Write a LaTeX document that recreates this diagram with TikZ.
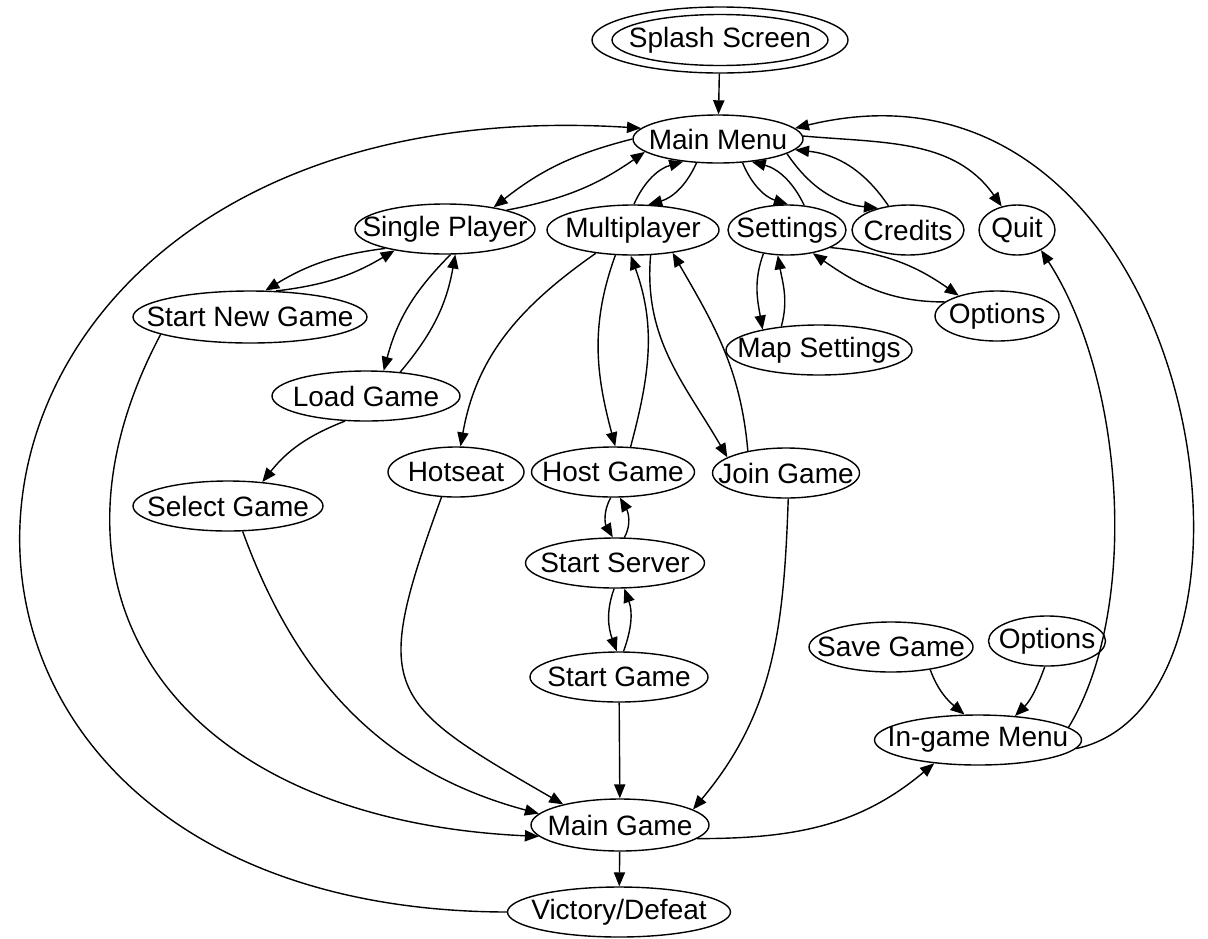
\documentclass[tikz,border=0pt]{standalone}
\usepackage{fontspec}
\setmainfont{Liberation Sans}
\usepackage{tikz}
\usetikzlibrary{arrows.meta, shapes.geometric}

\tikzset{
  state/.style={ellipse, draw, line width=0.7pt, inner sep=0pt, minimum height=25pt,
    font=\fontsize{14}{16}\selectfont},
  arr/.style={-{Triangle[length=7pt,width=5.6pt]}, line width=0.7pt}
}

\begin{document}
\begin{tikzpicture}[x=0.5pt, y=0.5pt]
  \useasboundingbox (0,0) rectangle (1208,-938);

  % screens
  \node[state, minimum width=128pt, minimum height=33pt] (splash) at (720,-40) {\makebox[0pt]{Splash Screen}};
  \draw[line width=0.7pt] (splash.center) ellipse [x radius=54pt, y radius=12.75pt];
  \node[state, minimum width=85pt, minimum height=24pt] (mm) at (718,-139) {\makebox[0pt]{Main Menu}};
  \node[state, minimum width=90pt] (sp) at (445,-229) {\makebox[0pt]{Single Player}};
  \node[state, minimum width=86pt] (mp) at (633,-230) {\makebox[0pt]{Multiplayer}};
  \node[state, minimum width=59pt] (set) at (787,-230) {\makebox[0pt]{Settings}};
  \node[state, minimum width=56pt] (cred) at (908,-230) {\makebox[0pt]{Credits}};
  \node[state, minimum width=38pt] (quit) at (1017,-230) {\makebox[0pt]{Quit}};
  \node[state, minimum width=117pt, minimum height=26pt] (sng) at (250,-317) {\makebox[0pt]{Start New Game}};
  \node[state, minimum width=62pt] (opt1) at (997,-316) {\makebox[0pt]{Options}};
  \node[state, minimum width=93pt] (maps) at (819,-350) {\makebox[0pt]{Map Settings}};
  \node[state, minimum width=94pt] (load) at (366,-396) {\makebox[0pt]{Load Game}};
  \node[state, minimum width=68pt] (hot) at (456,-472) {\makebox[0pt]{Hotseat}};
  \node[state, minimum width=81.5pt] (host) at (613,-472) {\makebox[0pt]{Host Game}};
  \node[state, minimum width=73.5pt] (join) at (786,-473) {\makebox[0pt]{Join Game}};
  \node[state, minimum width=95pt] (sel) at (228,-506) {\makebox[0pt]{Select Game}};
  \node[state, minimum width=89.5pt] (srv) at (615,-563) {\makebox[0pt]{Start Server}};
  \node[state, minimum width=82pt] (save) at (891,-647) {\makebox[0pt]{Save Game}};
  \node[state, minimum width=58.5pt] (opt2) at (1047,-641) {\makebox[0pt]{Options}};
  \node[state, minimum width=89pt] (sgame) at (619,-677) {\makebox[0pt]{Start Game}};
  \node[state, minimum width=103.5pt] (igm) at (978,-740) {\makebox[0pt]{In-game Menu}};
  \node[state, minimum width=89pt, minimum height=26pt] (mg) at (620,-825) {\makebox[0pt]{Main Game}};
  \node[state, minimum width=111.5pt] (vd) at (619,-912) {\makebox[0pt]{Victory/Defeat}};

  \draw[arr] (splash) -- (mm);

  % main menu
  \draw[arr] (mm.180) to[bend right=12] (sp.24);
  \draw[arr] (sp.17) to[bend right=12] (mm.190);
  \draw[arr] (mm.228) to[bend left=25] (mp.59);
  \draw[arr] (mp.88) to[bend left=25] (mm.213);
  \draw[arr] (mm.316) to[bend right=25] (set.88);
  \draw[arr] (set.55) to[bend right=25] (mm.326);
  \draw[arr] (mm.348) to[bend right=25] (cred.144);
  \draw[arr] (cred.129) to[bend right=25] (mm.352);
  \draw[arr] (mm.2) to[out=-5,in=125] (quit.123);

  % single player
  \draw[arr] (sp.198) to[bend right=12] (sng.60);
  \draw[arr] (sng.45) to[bend right=12] (sp.203);
  \draw[arr] (sp.282) to[bend right=15] (load.55);
  \draw[arr] (load.35) to[bend right=15] (sp.292);
  \draw[arr] (load.230) to[bend right=15] (sel.35);

  % multiplayer
  \draw[arr] (mp.212) to[out=215,in=80] (hot.80);
  \draw[arr] (mp.235) to[out=250,in=105] (host.85);
  \draw[arr] (host.55) to[out=75,in=290] (mp.265);
  \draw[arr] (mp.305) to[out=265,in=120] (join.165);
  \draw[arr] (join.150) to[out=95,in=300] (mp.330);
  \draw[arr] (host.265) to[out=240,in=120] (srv.95);
  \draw[arr] (srv.70) to[out=60,in=300] (host.285);
  \draw[arr] (srv.268) to[out=250,in=110] (sgame.95);
  \draw[arr] (sgame.80) to[out=70,in=290] (srv.290);

  % settings
  \draw[arr] (set.225) to[out=250,in=100] (maps.160);
  \draw[arr] (maps.148) to[out=75,in=280] (set.250);
  \draw[arr] (set.338) to[out=-5,in=145] (opt1.152);
  \draw[arr] (opt1.165) to[out=180,in=325] (set.318);

  % into the game
  \draw[arr] (sgame) -- (mg);
  \draw[arr] (mg) -- (vd);
  \draw[arr] (sng.191) .. controls (20,-600) and (180,-820) .. (mg.188);
  \draw[arr] (sel.300) to[out=-70,in=165] (mg.172);
  \draw[arr] (hot.240) to[out=250,in=150,looseness=1.6] (mg.160);
  \draw[arr] (join.275) to[out=268,in=50] (mg.12);

  % in-game menu
  \draw[arr] (mg.350) to[out=0,in=220] (igm.208);
  \draw[arr] (save.330) to[out=290,in=140] (igm.118);
  \draw[arr] (opt2.265) to[out=250,in=45] (igm.33);
  \draw[arr] (igm.8) .. controls (1140,-610) and (1125,-380) .. (quit.320);
  \draw[arr] (igm.355) .. controls (1300,-700) and (1200,-30) .. (mm.8);
  \draw[arr] (vd.west) .. controls (-190,-910) and (-130,-80) .. (mm.172);
\end{tikzpicture}
\end{document}
